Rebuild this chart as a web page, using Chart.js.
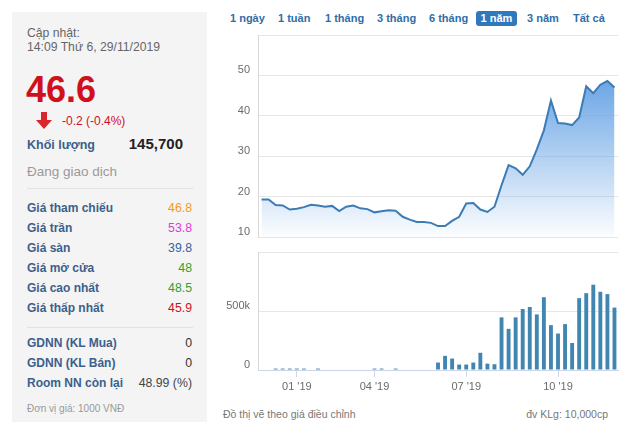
<!DOCTYPE html>
<html>
<head>
<meta charset="utf-8">
<script src="https://cdn.jsdelivr.net/npm/chart.js@4"></script>
<style>
  html, body { margin:0; padding:0; background:#fff; }
  body { width:630px; height:426px; position:relative; overflow:hidden; font-family:"Liberation Sans", Arial, sans-serif; }
  .abs { position:absolute; white-space:nowrap; line-height:16px; }
  #panel { position:absolute; left:12px; top:12px; width:195px; height:410px; background:#f4f4f4; }
  .lbl { left:27px; font-size:12px; font-weight:bold; color:#3c5f8c; }
  .val { right:438px; font-size:12.3px; text-align:right; }
  .sep { position:absolute; left:27px; width:166px; height:1px; background:#e2e2e2; }
  .btn { top:10px; font-size:11px; font-weight:bold; color:#2f6ea8; line-height:16px; }
  #active { position:absolute; left:476px; top:11px; width:41px; height:15px; background:#2f78bb; border-radius:3px; color:#fff; font-size:11px; font-weight:bold; text-align:center; line-height:15px; }
  canvas { position:absolute; }
</style>
</head>
<body>
<div id="panel"></div>
<div class="abs" style="left:27px;top:25px;font-size:12.2px;color:#666;">Cập nhật:</div>
<div class="abs" style="left:27px;top:39px;font-size:12.2px;color:#666;">14:09 Thứ 6, 29/11/2019</div>
<div class="abs" style="left:26px;top:72px;font-size:36px;line-height:36px;font-weight:bold;color:#d0101c;">46.6</div>
<svg style="position:absolute;left:36px;top:112px" width="16" height="17" viewBox="0 0 16 17"><polygon points="5,0 11,0 11,8 16,8 8,17 0,8 5,8" fill="#d9262b"/></svg>
<div class="abs" style="left:62px;top:113px;font-size:12px;color:#d0101c;">-0.2 (-0.4%)</div>
<div class="abs" style="left:27px;top:137px;font-size:12.5px;font-weight:bold;color:#3c5f8c;">Khối lượng</div>
<div class="abs" style="right:447px;top:136px;font-size:15px;font-weight:bold;color:#222;">145,700</div>
<div class="abs" style="left:27px;top:164px;font-size:13.5px;color:#9a9a9a;">Đang giao dịch</div>
<div class="sep" style="top:188px;"></div>

<div class="abs lbl" style="top:200px;">Giá tham chiếu</div><div class="abs val" style="top:200px;color:#f39a1e;">46.8</div>
<div class="abs lbl" style="top:220px;">Giá trần</div><div class="abs val" style="top:220px;color:#e238d8;">53.8</div>
<div class="abs lbl" style="top:240px;">Giá sàn</div><div class="abs val" style="top:240px;color:#2d66a0;">39.8</div>
<div class="abs lbl" style="top:260px;">Giá mở cửa</div><div class="abs val" style="top:260px;color:#2ea32e;">48</div>
<div class="abs lbl" style="top:280px;">Giá cao nhất</div><div class="abs val" style="top:280px;color:#2ea32e;">48.5</div>
<div class="abs lbl" style="top:300px;">Giá thấp nhất</div><div class="abs val" style="top:300px;color:#c81422;">45.9</div>
<div class="sep" style="top:327px;"></div>
<div class="abs lbl" style="top:335px;">GDNN (KL Mua)</div><div class="abs val" style="top:335px;color:#333;">0</div>
<div class="abs lbl" style="top:355px;">GDNN (KL Bán)</div><div class="abs val" style="top:355px;color:#333;">0</div>
<div class="abs lbl" style="top:375px;">Room NN còn lại</div><div class="abs val" style="top:375px;color:#444;">48.99 (%)</div>
<div class="abs" style="left:27px;top:401px;font-size:10px;color:#999;">Đơn vị giá: 1000 VNĐ</div>

<div class="abs btn" style="left:230px;">1 ngày</div>
<div class="abs btn" style="left:278px;">1 tuần</div>
<div class="abs btn" style="left:325px;">1 tháng</div>
<div class="abs btn" style="left:377px;">3 tháng</div>
<div class="abs btn" style="left:429px;">6 tháng</div>
<div id="active">1 năm</div>
<div class="abs btn" style="left:527px;">3 năm</div>
<div class="abs btn" style="left:573px;">Tất cả</div>

<canvas id="price" width="420" height="212" style="left:210px;top:30px;width:420px;height:212px;"></canvas>
<canvas id="vol" width="420" height="150" style="left:210px;top:245px;width:420px;height:150px;"></canvas>

<div class="abs" style="left:223px;top:406px;font-size:10.5px;color:#777;">Đồ thị vẽ theo giá điều chỉnh</div>
<div class="abs" style="right:22px;top:406px;font-size:10.5px;color:#777;">đv KLg: 10,000cp</div>

<script>
const categories = [
  "03/12/18","10/12/18","17/12/18","24/12/18","31/12/18","07/01/19","14/01/19","21/01/19","28/01/19","11/02/19",
  "18/02/19","25/02/19","04/03/19","11/03/19","18/03/19","25/03/19","01/04/19","08/04/19","15/04/19","22/04/19",
  "29/04/19","06/05/19","13/05/19","20/05/19","27/05/19","03/06/19","10/06/19","17/06/19","24/06/19","01/07/19",
  "08/07/19","15/07/19","22/07/19","29/07/19","05/08/19","12/08/19","19/08/19","26/08/19","02/09/19","09/09/19",
  "16/09/19","23/09/19","30/09/19","07/10/19","14/10/19","21/10/19","28/10/19","04/11/19","11/11/19","18/11/19",
  "25/11/19"
];
const prices = [
  19.3,19.3,17.9,17.8,16.8,17.0,17.4,18.0,17.8,17.5,
  17.7,16.4,17.5,17.8,17.1,16.9,16.1,16.4,16.6,16.5,
  15.0,14.3,13.7,13.7,13.5,12.7,12.7,14.0,15.0,18.3,
  18.4,16.8,16.2,17.5,22.8,27.8,27.0,25.4,27.5,31.7,
  36.4,43.8,38.2,38.1,37.7,39.6,47.3,45.6,47.7,48.6,
  47.0
];
const volumes = [
  0,0,12000,12000,12000,12000,12000,0,12000,0,
  0,0,0,0,0,0,12000,12000,0,12000,
  0,0,0,0,0,63000,120000,97000,46000,46000,
  63000,146000,54000,49000,446000,349000,446000,517000,534000,471000,
  617000,380000,309000,389000,229000,609000,651000,723000,663000,643000,
  529000
];
const tickWeeks = ["07/01/19","01/04/19","01/07/19","30/09/19"];
const tickLabels = ["01 '19","04 '19","07 '19","10 '19"];

const FONT = { family: "'Liberation Sans', Arial, sans-serif", size: 11 };
const GRID = '#e6e6e6';
const AXIS = '#ccd6eb';

function fixY(w){ return function(scale){ scale.width = w; scale.paddingTop = 0; scale.paddingBottom = 0; }; }

new Chart(document.getElementById('price'), {
  type: 'line',
  data: {
    labels: categories,
    datasets: [{
      data: prices,
      borderColor: '#3b7cb6',
      borderWidth: 2,
      pointRadius: 0,
      tension: 0,
      fill: 'start',
      backgroundColor: (ctx) => {
        const chart = ctx.chart, a = chart.chartArea;
        if (!a) return 'rgba(110,168,230,0.5)';
        const yTop = chart.scales.y.getPixelForValue(Math.max(...prices));
        const g = chart.ctx.createLinearGradient(0, yTop, 0, a.bottom);
        g.addColorStop(0, 'rgba(108,166,230,1)');
        g.addColorStop(1, 'rgba(108,166,230,0.02)');
        return g;
      }
    }]
  },
  options: {
    responsive: false, animation: false,
    layout: { padding: { left: 0, right: 12, top: 5, bottom: 5 } },
    plugins: { legend: { display: false }, tooltip: { enabled: false } },
    scales: {
      x: { type: 'category', offset: true, display: false },
      y: {
        min: 10, max: 60,
        afterFit: fixY(48),
        border: { display: true, color: '#d8d8d8' },
        grid: { color: GRID, drawTicks: false },
        ticks: { stepSize: 10, padding: 8, labelOffset: -5, color: '#6b6b6b', font: FONT,
                 callback: (v) => v === 60 ? '' : v }
      }
    }
  }
});

new Chart(document.getElementById('vol'), {
  type: 'bar',
  data: {
    labels: categories,
    datasets: [{
      data: volumes,
      backgroundColor: '#4185b1',
      barPercentage: 0.55,
      categoryPercentage: 1.0
    }]
  },
  options: {
    responsive: false, animation: false,
    layout: { padding: { left: 0, right: 12, top: 7, bottom: 0 } },
    plugins: { legend: { display: false }, tooltip: { enabled: false } },
    scales: {
      x: {
        type: 'category', offset: true,
        afterFit: (scale) => { scale.height = 25; scale.paddingLeft = 0; scale.paddingRight = 0; },
        border: { display: true, color: AXIS },
        grid: {
          offset: false, drawOnChartArea: false, drawTicks: true, tickLength: 7,
          tickColor: (ctx) => tickWeeks.includes(categories[ctx.index]) ? AXIS : 'rgba(0,0,0,0)'
        },
        ticks: {
          autoSkip: false, maxRotation: 0, padding: 3, color: '#6b6b6b', font: FONT,
          callback: (v, i) => { const k = tickWeeks.indexOf(categories[i]); return k >= 0 ? tickLabels[k] : ''; }
        }
      },
      y: {
        min: 0, max: 1000000,
        afterFit: fixY(48),
        border: { display: true, color: '#d8d8d8' },
        grid: { color: (ctx) => ctx.tick && ctx.tick.value === 0 ? 'rgba(0,0,0,0)' : GRID, drawTicks: false },
        ticks: { stepSize: 500000, padding: 8, labelOffset: -5, color: '#6b6b6b', font: FONT,
                 callback: (v) => v === 0 ? '0' : (v === 500000 ? '500k' : '') }
      }
    }
  }
});
</script>
</body>
</html>
